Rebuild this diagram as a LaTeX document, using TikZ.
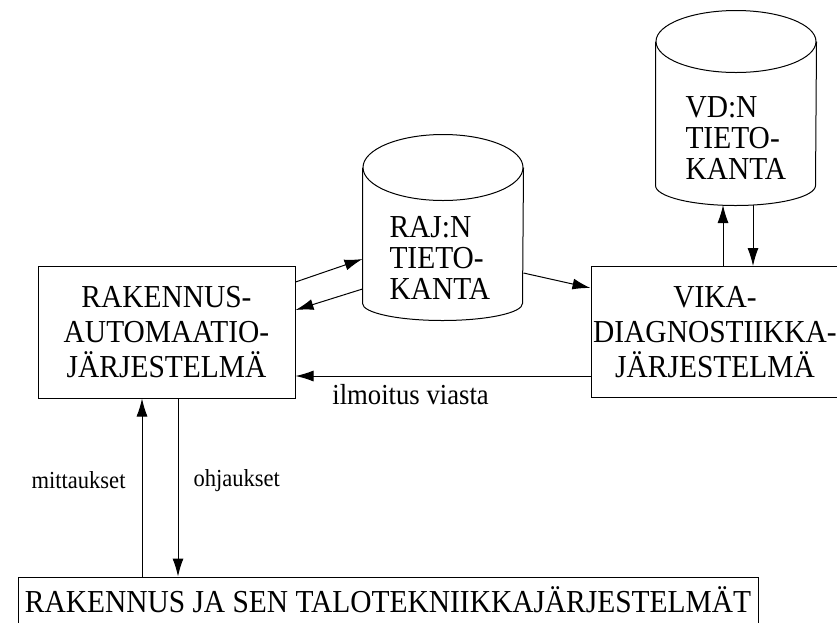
\documentclass[tikz,border=0pt]{standalone}
\usepackage{fontspec}
\setmainfont[FakeStretch=0.92]{Liberation Serif}
\usetikzlibrary{arrows.meta}
\begin{document}
\begin{tikzpicture}[x=1pt,y=-1pt,line width=1pt,
  block/.style={draw,inner sep=0pt,align=center,font=\fontsize{32}{35}\selectfont},
  dbbody/.style={inner sep=0pt,minimum width=160pt},
  dbtext/.style={inner sep=0pt,align=left,font=\fontsize{32}{31}\selectfont},
  lbl/.style={inner sep=0pt,font=\fontsize{24.5}{27}\selectfont},
  arr/.style={-{Latex[length=18pt,width=11pt]}}]
\useasboundingbox (0,0) rectangle (837,622);

% main systems
\node[block,minimum width=257pt,minimum height=132pt] (bas) at (166.5,332)
  {RAKENNUS-\\AUTOMAATIO-\\JÄRJESTELMÄ};
\node[block,minimum width=258pt,minimum height=131pt] (vika) at (720,332) {};
\node[inner sep=0pt,align=center,font=\fontsize{32}{35}\selectfont] (vikat) at (715,332)
  {VIKA-\\DIAGNOSTIIKKA-\\JÄRJESTELMÄ};
\node[block,minimum width=740pt,minimum height=46pt] (sys) at (388,600)
  {RAKENNUS JA SEN TALOTEKNIIKKAJÄRJESTELMÄT};

% database cylinders: body node between the two ellipse centres
\node[dbbody,minimum height=135pt] (raj) at (443,235.5) {};
\draw (raj.north) ellipse[x radius=80pt,y radius=33pt];
\draw (raj.north west) -- (raj.south west)
  arc[start angle=180,end angle=360,x radius=80pt,y radius=17pt]
  -- (raj.north east);
\node[dbtext,anchor=west] (rajt) at (389,258) {RAJ:N\\TIETO-\\KANTA};

\node[dbbody,minimum height=143pt] (vd) at (736,113.5) {};
\draw (vd.north) ellipse[x radius=80pt,y radius=31pt];
\draw (vd.north west) -- (vd.south west)
  arc[start angle=180,end angle=360,x radius=80pt,y radius=20pt]
  -- (vd.north east);
\node[dbtext,anchor=west] (vdt) at (685,138) {VD:N\\TIETO-\\KANTA};
\coordinate (vdb) at (736,205);

% data flows
\draw[arr] ([yshift=50pt]bas.east) -- ([yshift=-23.5pt]raj.west);
\draw[arr] ([yshift=-53.5pt]raj.west) -- ([yshift=22pt]bas.east);
\draw[arr] ([yshift=-37.5pt]raj.east) -- ([yshift=44pt]vika.west);
\draw[arr] ([yshift=-44pt]vika.west) -- ([yshift=-44pt]bas.east)
  node[inner sep=0pt,font=\fontsize{29}{31}\selectfont,pos=0.61,below=8pt] (ilm) {ilmoitus viasta};
\draw[arr] ([xshift=3pt]vika.north) -- ([xshift=3pt]vika.north |- vdb);
\draw[arr] ([xshift=33pt]vika.north |- vdb) -- ([xshift=33pt]vika.north);
\draw[arr] ([xshift=-24.5pt]bas.south |- sys.north) -- ([xshift=-24.5pt]bas.south)
  node[lbl,pos=0.54,left=16pt] (mit) {mittaukset};
\draw[arr] ([xshift=11.5pt]bas.south) -- ([xshift=11.5pt]bas.south |- sys.north)
  node[lbl,pos=0.46,right=15pt] (ohj) {ohjaukset};
\end{tikzpicture}
\end{document}
